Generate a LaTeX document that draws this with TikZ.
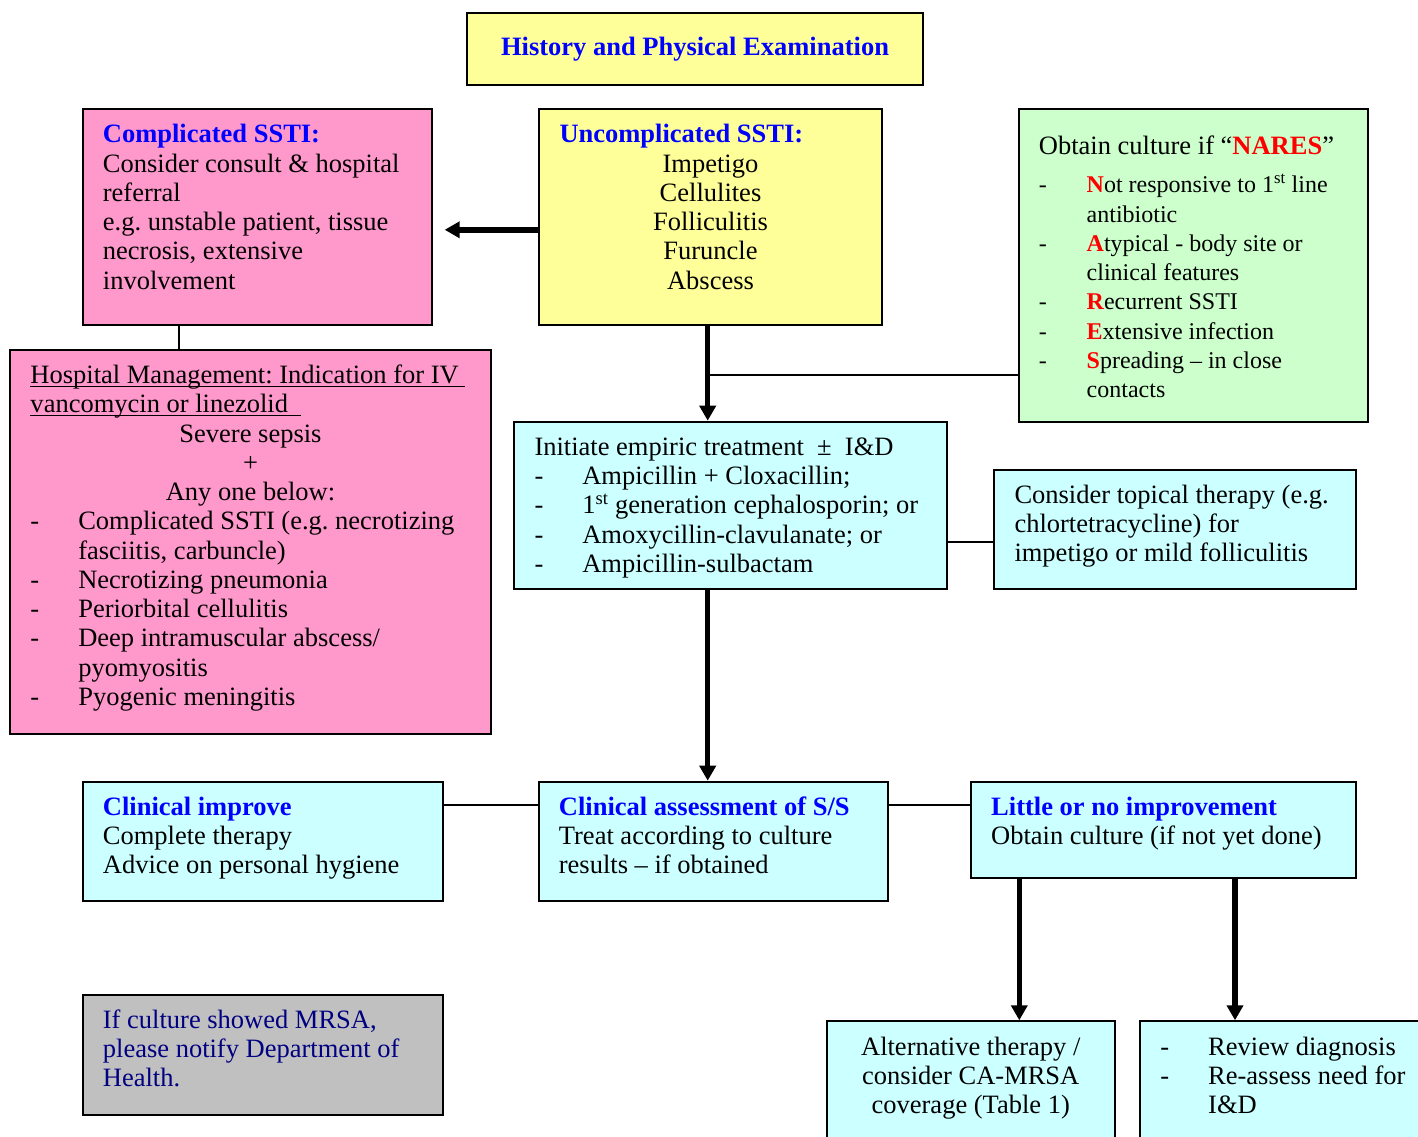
\documentclass[tikz,border=0pt]{standalone}
\usepackage{fontspec}
\setmainfont{Liberation Serif}
\usetikzlibrary{arrows.meta}
\newcommand\bul{\makebox[47.8pt][l]{-}}
\newcommand\indr{\leavevmode\hspace*{47.8pt}}
\newcommand\hd[1]{\textcolor{blue}{\bfseries #1}}
\newcommand\nr[1]{\textcolor{red}{\bfseries #1}}
\newcommand\sm{\fontsize{24}{29.25}\selectfont}
\newcommand\uln[1]{\leavevmode\setbox0\hbox{#1}\rlap{\rule[-3.5pt]{\wd0}{1.6pt}}\box0}
\begin{document}
\frenchspacing
\begin{tikzpicture}[x=1pt,y=-1pt,
  font=\fontsize{26.5}{29.25}\selectfont,
  box/.style={draw,line width=2pt,anchor=north west,inner sep=0pt},
  txt/.style={anchor=north west,inner sep=0pt,align=left},
  link/.style={line width=2pt},
  flow/.style={line width=5.5pt,-{Triangle[width=16pt,length=15pt]}}]
\useasboundingbox (0,0) rectangle (1418,1137);
\clip (0,0) rectangle (1418,1137);
\definecolor{yel}{HTML}{FFFF99}
\definecolor{pnk}{HTML}{FF99CC}
\definecolor{grn}{HTML}{CCFFCC}
\definecolor{cyn}{HTML}{CCFFFF}
\definecolor{gry}{HTML}{C0C0C0}
\definecolor{navy}{HTML}{000080}
\node[box,fill=yel,minimum width=456.6pt,minimum height=72pt] (hpe) at (465.7,12.3) {\hd{History and Physical Examination}};
\node[box,fill=pnk,minimum width=349pt,minimum height=216pt] (comp) at (81.7,108.3) {};
\node[box,fill=yel,minimum width=342.4pt,minimum height=216pt] (uncomp) at (538.3,108.3) {};
\node[box,fill=grn,minimum width=349.6pt,minimum height=312.4pt] (nares) at (1017.7,108.3) {};
\node[box,fill=pnk,minimum width=480.7pt,minimum height=383.7pt] (hosp) at (9.3,349) {};
\node[box,fill=gry,minimum width=360.6pt,minimum height=120.3pt] (mrsa) at (81.7,994) {};
\foreach \name/\x/\y/\w/\h in {emp/513.3/420.7/433/167.6, topical/993.3/469/361.7/119.3,
  improve/81.7/780.7/360.6/119.3, assess/537.7/780.7/349/119.3, little/970/780.7/385/96,
  alt/825.5/1020.3/288.5/160, review/1138.7/1020.3/320/160}
  \node[box,fill=cyn,minimum width=\w pt,minimum height=\h pt] (\name) at (\x,\y) {};
\node[txt] (compt) at ([shift={(21,14)}]comp.north west) {\strut\hd{Complicated SSTI:}\\Consider consult \& hospital\\referral\\e.g. unstable patient, tissue\\necrosis, extensive\\involvement};
\node[txt] (uncompt) at ([shift={(21,14)}]uncomp.north west) {\strut\hd{Uncomplicated SSTI:}\\\makebox[302pt]{Impetigo}\\\makebox[302pt]{Cellulites}\\\makebox[302pt]{Folliculitis}\\\makebox[302pt]{Furuncle}\\\makebox[302pt]{Abscess}};
\node[txt] (narest) at ([shift={(21,25.5)}]nares.north west) {\strut Obtain culture if “\nr{NARES}”\\[9.2pt]\sm\bul\nr{N}ot responsive to 1\textsuperscript{st} line\\\sm\indr antibiotic\\\sm\bul\nr{A}typical - body site or\\\sm\indr clinical features\\\sm\bul\nr{R}ecurrent SSTI\\\sm\bul\nr{E}xtensive infection\\\sm\bul\nr{S}preading – in close\\\sm\indr contacts};
\node[txt] (hospt) at ([shift={(21,14)}]hosp.north west) {\strut\uln{Hospital Management: Indication for IV\ }\\\uln{vancomycin or linezolid\ \ }\\\makebox[440pt]{Severe sepsis}\\\makebox[440pt]{+}\\\makebox[440pt]{Any one below:}\\\bul Complicated SSTI (e.g. necrotizing\\\indr fasciitis, carbuncle)\\\bul Necrotizing pneumonia\\\bul Periorbital cellulitis\\\bul Deep intramuscular abscess/\\\indr pyomyositis\\\bul Pyogenic meningitis};
\node[txt] (empt) at ([shift={(21,14)}]emp.north west) {\strut Initiate empiric treatment\ \ ±\ \ I\&D\\\bul Ampicillin + Cloxacillin;\\\bul 1\textsuperscript{st} generation cephalosporin; or\\\bul Amoxycillin-clavulanate; or\\\bul Ampicillin-sulbactam};
\node[txt] (topicalt) at ([shift={(21,13.5)}]topical.north west) {\strut Consider topical therapy (e.g.\\chlortetracycline) for\\impetigo or mild folliculitis};
\node[txt] (improvet) at ([shift={(21,14)}]improve.north west) {\strut\hd{Clinical improve}\\Complete therapy\\Advice on personal hygiene};
\node[txt] (assesst) at ([shift={(21,14)}]assess.north west) {\strut\hd{Clinical assessment of S/S}\\Treat according to culture\\results – if obtained};
\node[txt] (littlet) at ([shift={(21,14)}]little.north west) {\strut\hd{Little or no improvement}\\Obtain culture (if not yet done)};
\node[txt,text=navy] (mrsat) at ([shift={(21,13.5)}]mrsa.north west) {\strut If culture showed MRSA,\\please notify Department of\\Health.};
\node[txt,anchor=north,align=center] (altt) at ([shift={(0,14.5)}]alt.north) {\strut Alternative therapy /\\consider CA-MRSA\\coverage (Table 1)};
\node[txt] (reviewt) at ([shift={(21.5,14.5)}]review.north west) {\strut\bul Review diagnosis\\\bul Re-assess need for\\\indr I\&D};
\draw[flow,shorten >=12pt] ([yshift=-12.5pt]uncomp.west) -- ([yshift=-12.5pt]comp.east);
\draw[link] ([xshift=-78.5pt]comp.south) -- ([xshift=-78.5pt]comp.south |- hosp.north);
\draw[flow] ([xshift=-2.8pt]uncomp.south) -- ([xshift=-2.8pt]uncomp.south |- emp.north);
\coordinate (fork) at ([shift={(-2.8,48.2)}]uncomp.south);
\draw[link] (fork) -- (fork -| nares.west);
\draw[link] ([yshift=-36pt]emp.east) -- ([yshift=-36pt]emp.east -| topical.west);
\draw[flow] ([xshift=-23.1pt]emp.south) -- ([xshift=-23.1pt]emp.south |- assess.north);
\draw[link] ([yshift=36pt]improve.east) -- ([yshift=36pt]improve.east -| assess.west);
\draw[link] ([yshift=36pt]assess.east) -- ([yshift=36pt]assess.east -| little.west);
\draw[flow] ([xshift=-144.2pt]little.south) -- ([xshift=-144.2pt]little.south |- alt.north);
\draw[flow] ([xshift=71.5pt]little.south) -- ([xshift=71.5pt]little.south |- review.north);
\end{tikzpicture}
\end{document}
